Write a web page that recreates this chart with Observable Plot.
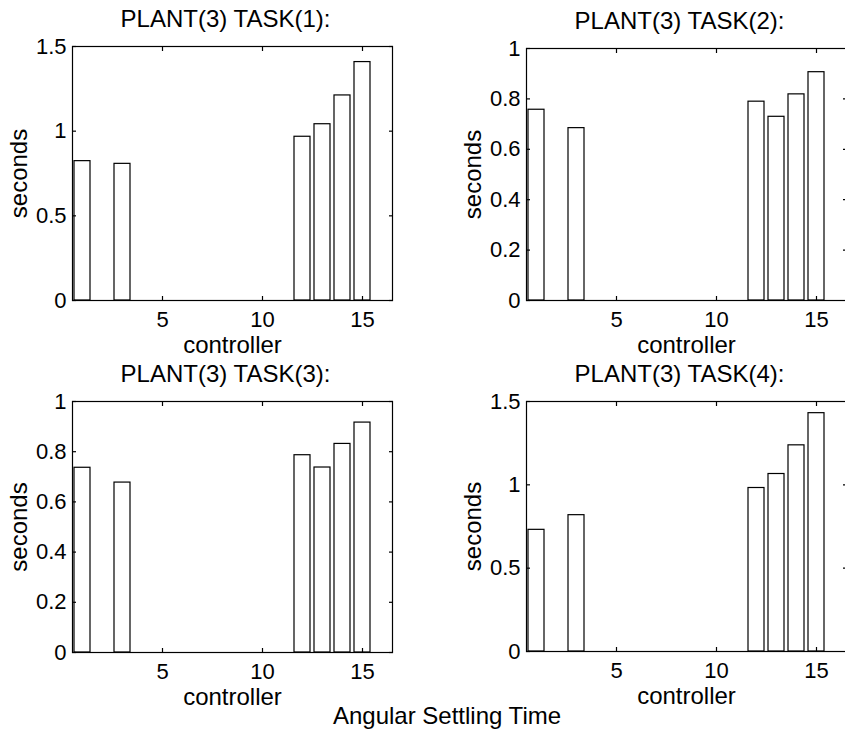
<!DOCTYPE html>
<html>
<head>
<meta charset="utf-8">
<script src="https://cdn.jsdelivr.net/npm/d3@7"></script>
<script src="https://cdn.jsdelivr.net/npm/@observablehq/plot@0.6"></script>
<style>
  html, body { margin: 0; padding: 0; background: #fff; }
  body { width: 845px; height: 734px; position: relative; overflow: hidden;
         font-family: "Liberation Sans", Arial, Helvetica, sans-serif; }
  .panel { position: absolute; }
  .panel svg { max-width: none !important; display: block; }
  .caption { position: absolute; left: 447px; top: 716px; transform: translate(-50%, -50%);
             font-size: 24px; color: #000; white-space: nowrap; }
</style>
</head>
<body>
<div id="root"></div>
<div class="caption">Angular Settling Time</div>
<script>
// Settling time (seconds) of each controller, plant 3, for tasks 1–4
const controllers = [1, 2, 3, 4, 5, 6, 7, 8, 9, 10, 11, 12, 13, 14, 15, 16];
const task1 = [0.823, 0, 0.807, 0, 0, 0, 0, 0, 0, 0, 0, 0.967, 1.041, 1.211, 1.408, 0];
const task2 = [0.757, 0, 0.684, 0, 0, 0, 0, 0, 0, 0, 0, 0.789, 0.729, 0.818, 0.906, 0];
const task3 = [0.736, 0, 0.677, 0, 0, 0, 0, 0, 0, 0, 0, 0.786, 0.737, 0.831, 0.916, 0];
const task4 = [0.730, 0, 0.818, 0, 0, 0, 0, 0, 0, 0, 0, 0.981, 1.065, 1.237, 1.430, 0];

const titles = ["PLANT(3) TASK(1):", "PLANT(3) TASK(2):", "PLANT(3) TASK(3):", "PLANT(3) TASK(4):"];
const xTicks = [5, 10, 15];
const yTicksWide = [0, 0.5, 1, 1.5];
const yTicksUnit = [0, 0.2, 0.4, 0.6, 0.8, 1];
const xLabel = "controller";
const yLabel = "seconds";

const FONT = '"Liberation Sans", Arial, Helvetica, sans-serif';
const ML = 70, MR = 30, MT = 46, MB = 60, INNER_W = 320;

// One MATLAB-style bar panel: boxed axes, inward ticks on all sides
function panel({title, values, yTicks, left, top, bottom}) {
  const data = controllers.map((c, i) => ({c, v: values[i]}));
  const yMax = yTicks[yTicks.length - 1];
  const innerH = bottom - top;
  const W = ML + INNER_W + MR, H = MT + innerH + MB;
  const chart = Plot.plot({
    width: W,
    height: H,
    marginLeft: ML, marginRight: MR, marginTop: MT, marginBottom: MB,
    style: {fontFamily: FONT, fontSize: "22px", background: "transparent", color: "#000", overflow: "visible"},
    x: {domain: [0.5, 16.5]},
    y: {domain: [0, yMax]},
    marks: [
      Plot.rectY(data, {x1: d => d.c - 0.4, x2: d => d.c + 0.4, y: "v",
                        fill: "white", stroke: "black", strokeWidth: 1.2}),
      Plot.frame({stroke: "black", strokeWidth: 1.2}),
      // inward tick marks
      Plot.axisX(xTicks, {anchor: "bottom", tickSize: 4, dy: -4, text: null, label: null, strokeWidth: 1.2}),
      Plot.axisX(xTicks, {anchor: "top", tickSize: 4, dy: 4, text: null, label: null, strokeWidth: 1.2}),
      Plot.axisY(yTicks, {anchor: "left", tickSize: 4, dx: 4, text: null, label: null, strokeWidth: 1.2}),
      Plot.axisY(yTicks, {anchor: "right", tickSize: 4, dx: -4, text: null, label: null, strokeWidth: 1.2}),
      // tick labels
      Plot.axisX(xTicks, {anchor: "bottom", tickSize: 0, tickPadding: 11, label: null,
                          tickFormat: d => String(d), fontSize: 22}),
      Plot.axisY(yTicks, {anchor: "left", tickSize: 0, tickPadding: 6, label: null,
                          tickFormat: d => String(d), fontSize: 22}),
      // axis titles and panel title
      Plot.text([xLabel], {frameAnchor: "bottom", dy: 45, fontSize: 24, textAnchor: "middle", lineAnchor: "middle", text: d => d}),
      Plot.text([yLabel], {frameAnchor: "left", dx: -53, rotate: -90, fontSize: 24, textAnchor: "middle", lineAnchor: "middle", text: d => d}),
      Plot.text([title], {frameAnchor: "top", dx: -7, dy: -27, fontSize: 24, textAnchor: "middle", lineAnchor: "middle", text: d => d})
    ]
  });
  const wrap = document.createElement("div");
  wrap.className = "panel";
  wrap.style.left = (left - ML) + "px";
  wrap.style.top = (top - MT) + "px";
  wrap.style.width = W + "px";
  wrap.style.height = H + "px";
  wrap.appendChild(chart);
  return wrap;
}

const root = document.getElementById("root");
root.appendChild(panel({title: titles[0], values: task1, yTicks: yTicksWide, left: 72, top: 46, bottom: 300}));
root.appendChild(panel({title: titles[1], values: task2, yTicks: yTicksUnit, left: 526, top: 48, bottom: 300}));
root.appendChild(panel({title: titles[2], values: task3, yTicks: yTicksUnit, left: 72, top: 401, bottom: 652}));
root.appendChild(panel({title: titles[3], values: task4, yTicks: yTicksWide, left: 526, top: 401, bottom: 651}));
</script>
</body>
</html>
